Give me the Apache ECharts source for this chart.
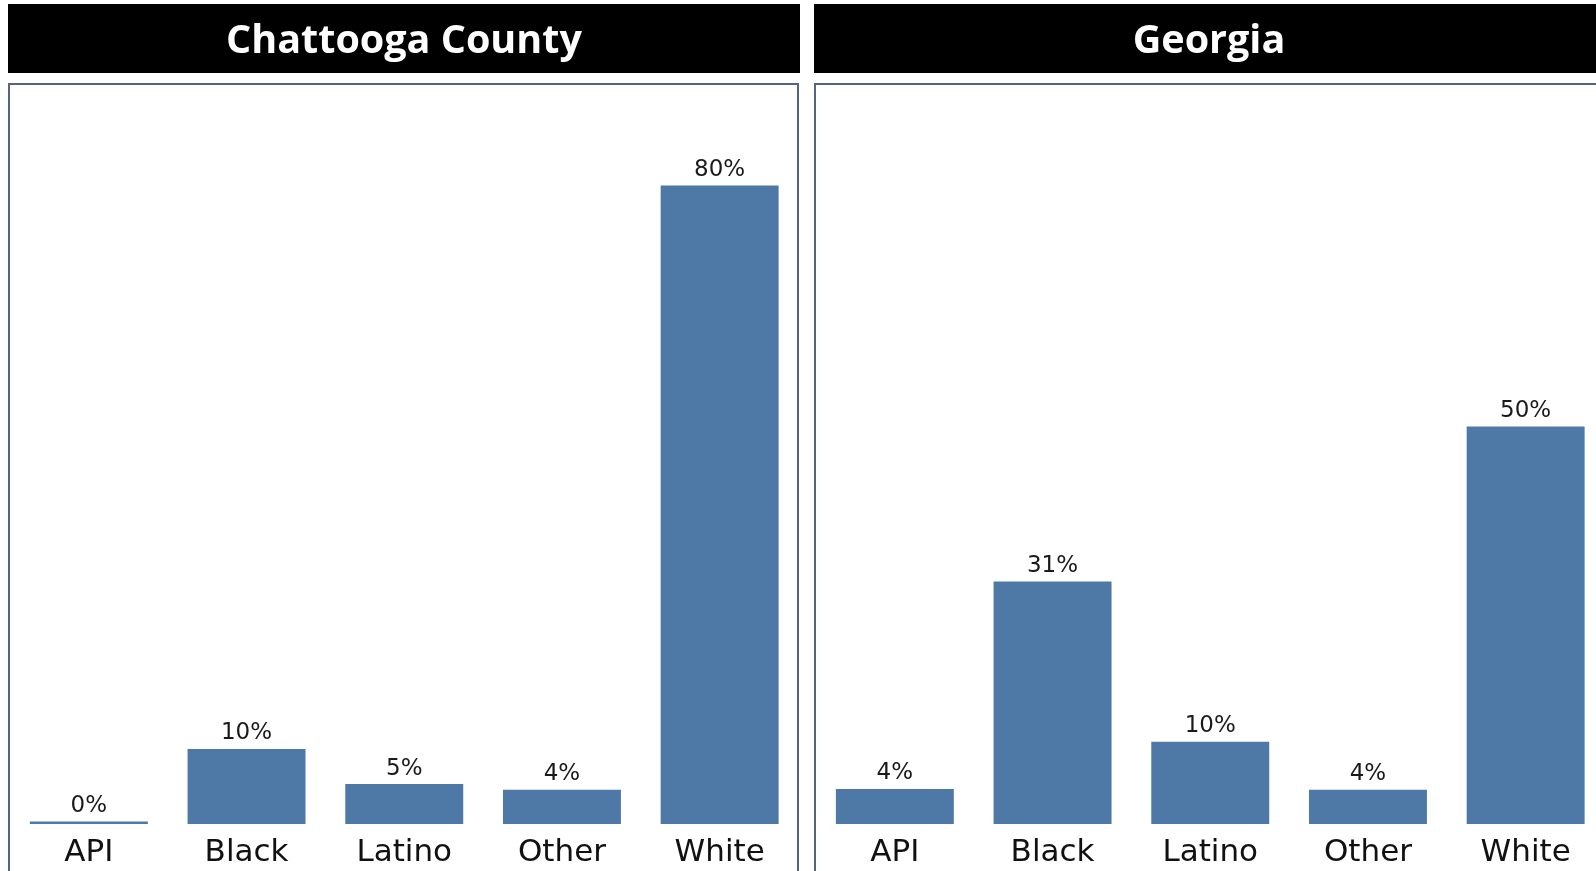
<!DOCTYPE html>
<html>
<head>
<meta charset="utf-8">
<style>
  html, body { margin: 0; padding: 0; background: #ffffff; }
  #chart { width: 1596px; height: 871px; }
</style>
<script src="https://cdn.jsdelivr.net/npm/echarts@6/dist/echarts.min.js"></script>
</head>
<body>
<div id="chart"></div>
<script>
const categories = ["API", "Black", "Latino", "Other", "White"];
const panelTitles = ["Chattooga County", "Georgia"];
const countyValues = [0.3, 9.4, 5.0, 4.3, 80.0];
const countyLabels = ["0%", "10%", "5%", "4%", "80%"];
const georgiaValues = [4.4, 30.4, 10.3, 4.3, 49.8];
const georgiaLabels = ["4%", "31%", "10%", "4%", "50%"];

const BAR_COLOR = "#4e79a7";
const BORDER_COLOR = "#55657f";
const FONT = "DejaVu Sans";

const chart = echarts.init(document.getElementById("chart"), null, { renderer: "canvas" });

function xAxisFor(gridIndex) {
  return {
    type: "category",
    gridIndex: gridIndex,
    data: categories,
    axisLine: { show: false },
    axisTick: { show: false },
    axisLabel: { color: "#111111", fontFamily: FONT, fontSize: 31, margin: 13 }
  };
}
function yAxisFor(gridIndex) {
  return {
    type: "value",
    gridIndex: gridIndex,
    min: 0,
    max: 100,
    show: false,
    splitLine: { show: false }
  };
}
function seriesFor(idx, values, labels) {
  return {
    type: "bar",
    xAxisIndex: idx,
    yAxisIndex: idx,
    data: values,
    barWidth: "74.8%",
    itemStyle: { color: BAR_COLOR },
    label: {
      show: true,
      position: "top",
      distance: 4,
      color: "#1a1a1a",
      fontFamily: FONT,
      fontSize: 23,
      formatter: function (p) { return labels[p.dataIndex]; }
    },
    silent: true,
    animation: false
  };
}

const option = {
  animation: false,
  backgroundColor: "#ffffff",
  grid: [
    { left: 10, top: 26, width: 788.5, bottom: 47, containLabel: false, outerBoundsMode: "none" },
    { left: 816, top: 26, width: 788.5, bottom: 47, containLabel: false, outerBoundsMode: "none" }
  ],
  xAxis: [xAxisFor(0), xAxisFor(1)],
  yAxis: [yAxisFor(0), yAxisFor(1)],
  series: [
    seriesFor(0, countyValues, countyLabels),
    seriesFor(1, georgiaValues, georgiaLabels)
  ],
  graphic: [
    { type: "rect", z: -10, shape: { x: 8, y: 4, width: 792, height: 69 }, style: { fill: "#000000" } },
    { type: "rect", z: -10, shape: { x: 814, y: 4, width: 800, height: 69 }, style: { fill: "#000000" } },
    { type: "rect", z: -10, shape: { x: 9, y: 84, width: 789, height: 820 }, style: { fill: "none", stroke: BORDER_COLOR, lineWidth: 2 } },
    { type: "rect", z: -10, shape: { x: 815, y: 84, width: 800, height: 820 }, style: { fill: "none", stroke: BORDER_COLOR, lineWidth: 2 } },
    { type: "text", z: 10, x: 404, y: 42, style: { text: panelTitles[0], fill: "#ffffff", font: "bold 39.5px 'Open Sans'", align: "center", verticalAlign: "middle" } },
    { type: "text", z: 10, x: 1209, y: 42, style: { text: panelTitles[1], fill: "#ffffff", font: "bold 39.5px 'Open Sans'", align: "center", verticalAlign: "middle" } }
  ]
};
chart.setOption(option);
</script>
</body>
</html>
